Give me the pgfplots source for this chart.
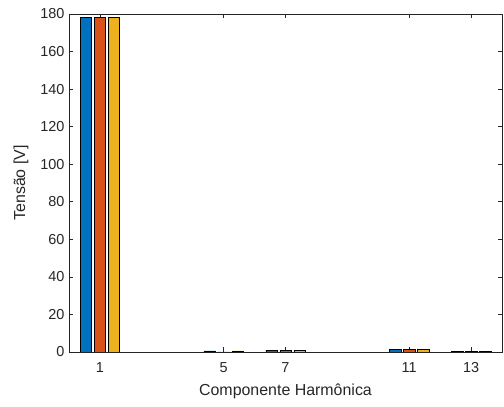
\documentclass[border=0pt]{standalone}
\usepackage{pgfplots}
\pgfplotsset{compat=1.18}
\usepackage{fontspec}
\setmainfont{Liberation Sans}
\definecolor{mblue}{rgb}{0,0.447,0.741}
\definecolor{mred}{rgb}{0.85,0.325,0.098}
\definecolor{myel}{rgb}{0.929,0.694,0.125}
\definecolor{mgray}{HTML}{262626}
\begin{document}
\begin{tikzpicture}
\begin{axis}[
  scale only axis,
  width=433bp, height=338bp,
  xmin=0, xmax=14, ymin=0, ymax=180,
  ybar=2.6bp, bar width=11.4bp,
  xtick={1,5,7,11,13},
  ytick={0,20,...,180},
  tick align=inside,
  major tick length=4.5bp,
  axis line style={mgray, line width=0.6pt},
  every tick/.style={mgray, line width=0.6pt},
  tick label style={font=\fontsize{14.5}{16}\selectfont, text=mgray},
  xticklabel style={yshift=-7bp},
  yticklabel style={xshift=-1bp},
  label style={font=\fontsize{16}{18}\selectfont, text=mgray},
  /pgf/number format/assume math mode=true,
  xlabel={Componente Harmônica},
  ylabel={Tensão [V]},
  xlabel style={yshift=-4bp},
  ylabel style={yshift=5bp},
  every axis plot/.append style={draw=black, line width=0.5pt},
]
\addplot[fill=mblue] coordinates {(1,178.2) (5,0.6) (7,1.0) (11,1.2) (13,0.5)};
\addplot[fill=mred] coordinates {(1,178.4) (5,0.05) (7,1.0) (11,1.2) (13,0.4)};
\addplot[fill=myel] coordinates {(1,178.2) (5,0.6) (7,1.0) (11,1.2) (13,0.5)};
\end{axis}
\path[use as bounding box] ([xshift=-69bp,yshift=-55bp]current axis.south west) rectangle ([xshift=2bp,yshift=14bp]current axis.north east);
\end{tikzpicture}
\end{document}
